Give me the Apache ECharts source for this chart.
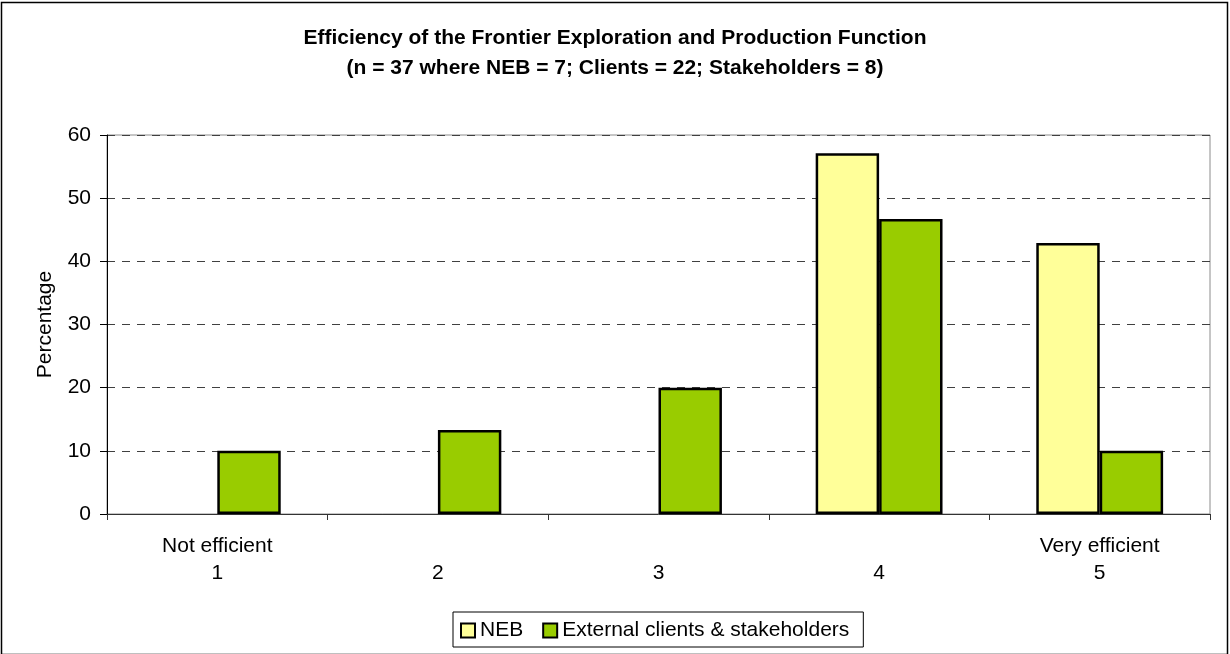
<!DOCTYPE html>
<html>
<head>
<meta charset="utf-8">
<script src="https://cdn.jsdelivr.net/npm/echarts@6/dist/echarts.min.js"></script>
<style>
  html, body { margin: 0; padding: 0; background: #ffffff; }
  #chart { width: 1230px; height: 654px; }
</style>
</head>
<body>
<div id="chart"></div>
<script>
// Rating scale: descriptive anchor text and the numeric rating
const scaleAnchors = ['Not efficient', '', '', '', 'Very efficient'];
const scaleValues = ['1', '2', '3', '4', '5'];

// Percentage of respondents per rating
const nebPct = [0, 0, 0, 57.1, 42.9];
const externalPct = [10, 13.3, 20, 46.7, 10];

// Value axis ticks
const yMin = 0;
const yMax = 60;
const yStep = 10;

const categories = scaleValues.map((v, i) => scaleAnchors[i] + '\n' + v);

// A zero share draws no bar at all
const asBars = arr => arr.map(v => (v === 0 ? null : v));

const FONT = '"Liberation Sans", Arial, sans-serif';
const FS = 21;

const chart = echarts.init(document.getElementById('chart'));

chart.setOption({
  backgroundColor: '#ffffff',
  animation: false,
  textStyle: { fontFamily: FONT },
  title: {
    text: 'Efficiency of the Frontier Exploration and Production Function\n(n = 37 where NEB = 7; Clients = 22; Stakeholders = 8)',
    left: 'center',
    top: 18,
    textStyle: {
      fontFamily: FONT,
      fontSize: 21,
      fontWeight: 'bold',
      color: '#000000',
      lineHeight: 30
    }
  },
  legend: {
    left: 453,
    top: 612,
    padding: [8, 14, 6, 7],
    itemGap: 19,
    itemWidth: 14,
    itemHeight: 14,
    icon: 'rect',
    borderColor: '#000000',
    borderWidth: 1,
    textStyle: { fontFamily: FONT, fontSize: FS, color: '#000000' },
    data: ['NEB', 'External clients & stakeholders']
  },
  grid: {
    left: 107,
    right: 20,
    top: 135,
    bottom: 140,
    show: true,
    borderColor: '#8c8c8c',
    borderWidth: 1
  },
  xAxis: {
    type: 'category',
    data: categories,
    axisLine: { lineStyle: { color: '#333333', width: 1 } },
    axisTick: { show: true, length: 6, alignWithLabel: false, lineStyle: { color: '#333333' } },
    axisLabel: {
      fontFamily: FONT,
      fontSize: FS,
      color: '#000000',
      lineHeight: 27,
      margin: 19,
      interval: 0
    }
  },
  yAxis: {
    type: 'value',
    min: yMin,
    max: yMax,
    interval: yStep,
    name: 'Percentage',
    nameLocation: 'middle',
    nameGap: 51,
    nameRotate: 90,
    nameTextStyle: { fontFamily: FONT, fontSize: FS, color: '#000000' },
    axisLine: { show: true, lineStyle: { color: '#000000', width: 1 } },
    axisTick: { show: true, length: 7, lineStyle: { color: '#000000' } },
    axisLabel: { fontFamily: FONT, fontSize: FS, color: '#000000', margin: 16 },
    splitLine: {
      show: true,
      lineStyle: { color: '#404040', type: [8, 7], width: 1 }
    }
  },
  series: [
    {
      name: 'NEB',
      type: 'bar',
      data: asBars(nebPct),
      barGap: '0%',
      barCategoryGap: '42.5%',
      itemStyle: { color: '#ffff99', borderColor: '#000000', borderWidth: 2.5 }
    },
    {
      name: 'External clients & stakeholders',
      type: 'bar',
      data: asBars(externalPct),
      barGap: '0%',
      barCategoryGap: '42.5%',
      itemStyle: { color: '#99cc00', borderColor: '#000000', borderWidth: 2.5 }
    }
  ],
  graphic: [
    {
      type: 'rect',
      shape: { x: 1.5, y: 2.5, width: 1226, height: 652 },
      style: { fill: 'none', stroke: '#000000', lineWidth: 1.5 },
      silent: true
    }
  ]
});
</script>
</body>
</html>
